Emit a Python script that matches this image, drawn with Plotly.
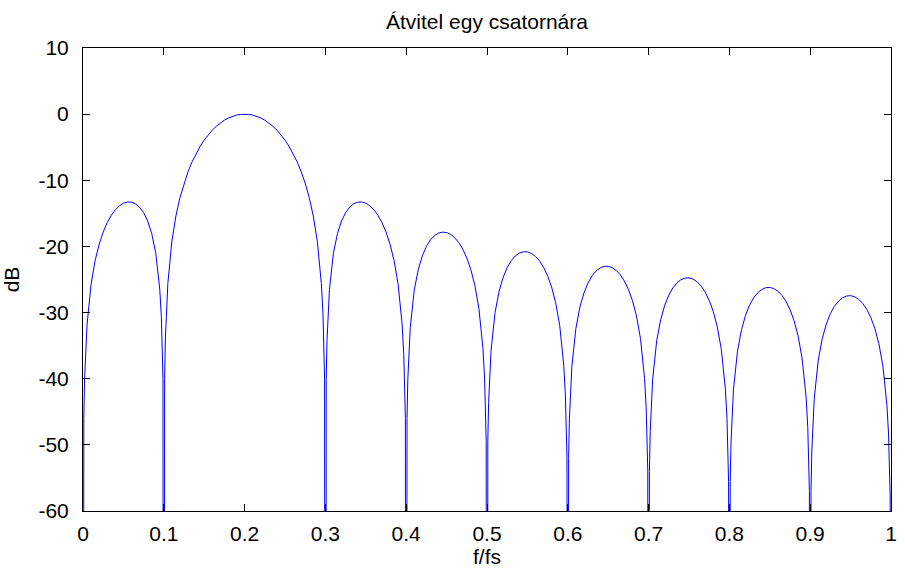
import plotly.graph_objects as go

# Normalised frequency samples (f/fs), lobe by lobe; extra points hug each null
freq = [
    0.000,
    0.001, 0.002, 0.003, 0.005, 0.010, 0.015, 0.020, 0.025, 0.030, 0.035, 0.040, 0.045, 0.050,
    0.055, 0.060, 0.065, 0.070, 0.075, 0.080, 0.085, 0.090, 0.095, 0.097, 0.098, 0.099, 0.100,
    0.101, 0.102, 0.103, 0.105, 0.110, 0.115, 0.120, 0.125, 0.130, 0.135, 0.140, 0.145, 0.150,
    0.155, 0.160, 0.165, 0.170, 0.175, 0.180, 0.185, 0.190, 0.195, 0.200,
    0.205, 0.210, 0.215, 0.220, 0.225, 0.230, 0.235, 0.240, 0.245, 0.250, 0.255, 0.260, 0.265,
    0.270, 0.275, 0.280, 0.285, 0.290, 0.295, 0.297, 0.298, 0.299, 0.300,
    0.301, 0.302, 0.303, 0.305, 0.310, 0.315, 0.320, 0.325, 0.330, 0.335, 0.340, 0.345, 0.350,
    0.355, 0.360, 0.365, 0.370, 0.375, 0.380, 0.385, 0.390, 0.395, 0.397, 0.398, 0.399, 0.400,
    0.401, 0.402, 0.403, 0.405, 0.410, 0.415, 0.420, 0.425, 0.430, 0.435, 0.440, 0.445, 0.450,
    0.455, 0.460, 0.465, 0.470, 0.475, 0.480, 0.485, 0.490, 0.495, 0.497, 0.498, 0.499, 0.500,
    0.501, 0.502, 0.503, 0.505, 0.510, 0.515, 0.520, 0.525, 0.530, 0.535, 0.540, 0.545, 0.550,
    0.555, 0.560, 0.565, 0.570, 0.575, 0.580, 0.585, 0.590, 0.595, 0.597, 0.598, 0.599, 0.600,
    0.601, 0.602, 0.603, 0.605, 0.610, 0.615, 0.620, 0.625, 0.630, 0.635, 0.640, 0.645, 0.650,
    0.655, 0.660, 0.665, 0.670, 0.675, 0.680, 0.685, 0.690, 0.695, 0.697, 0.698, 0.699, 0.700,
    0.701, 0.702, 0.703, 0.705, 0.710, 0.715, 0.720, 0.725, 0.730, 0.735, 0.740, 0.745, 0.750,
    0.755, 0.760, 0.765, 0.770, 0.775, 0.780, 0.785, 0.790, 0.795, 0.797, 0.798, 0.799, 0.800,
    0.801, 0.802, 0.803, 0.805, 0.810, 0.815, 0.820, 0.825, 0.830, 0.835, 0.840, 0.845, 0.850,
    0.855, 0.860, 0.865, 0.870, 0.875, 0.880, 0.885, 0.890, 0.895, 0.897, 0.898, 0.899, 0.900,
    0.901, 0.902, 0.903, 0.905, 0.910, 0.915, 0.920, 0.925, 0.930, 0.935, 0.940, 0.945, 0.950,
    0.955, 0.960, 0.965, 0.970, 0.975, 0.980, 0.985, 0.990, 0.995, 0.997, 0.998, 0.999, 1.000,
]

# Channel gain in dB at each frequency sample (nulls sit far below the axis floor)
gain_db = [
    -300.0,
    -45.98, -39.92, -36.36, -31.85, -25.72, -22.15, -19.67, -17.81, -16.39, -15.29, -14.47, -13.86, -13.47,
    -13.28, -13.31, -13.55, -14.06, -14.89, -16.15, -18.02, -20.97, -26.48, -30.73, -34.16, -40.09, -300.0,
    -39.91, -33.81, -30.21, -25.61, -19.23, -15.39, -12.62, -10.45, -8.69, -7.20, -5.94, -4.86, -3.92,
    -3.12, -2.42, -1.83, -1.33, -0.91, -0.58, -0.32, -0.14, -0.04, 0.00,
    -0.04, -0.14, -0.32, -0.58, -0.91, -1.33, -1.83, -2.42, -3.12, -3.92, -4.86, -5.94, -7.20,
    -8.69, -10.45, -12.62, -15.39, -19.23, -25.61, -30.21, -33.81, -39.91, -300.0,
    -40.09, -34.16, -30.73, -26.48, -20.97, -18.02, -16.15, -14.89, -14.06, -13.55, -13.31, -13.28, -13.47,
    -13.86, -14.47, -15.29, -16.39, -17.81, -19.67, -22.15, -25.72, -31.85, -36.36, -39.92, -45.98, -300.0,
    -46.07, -40.09, -36.62, -32.29, -26.59, -23.45, -21.41, -20.00, -19.02, -18.36, -17.99, -17.84, -17.90,
    -18.18, -18.68, -19.41, -20.41, -21.74, -23.51, -25.90, -29.39, -35.45, -39.93, -43.47, -49.52, -300.0,
    -49.57, -43.58, -40.10, -35.74, -29.97, -26.77, -24.67, -23.19, -22.15, -21.44, -21.01, -20.81, -20.82,
    -21.06, -21.51, -22.19, -23.15, -24.43, -26.16, -28.51, -31.96, -37.99, -42.45, -45.98, -52.02, -300.0,
    -52.07, -46.07, -42.58, -38.20, -32.40, -29.16, -27.03, -25.52, -24.45, -23.71, -23.25, -23.02, -23.01,
    -23.21, -23.64, -24.29, -25.23, -26.49, -28.19, -30.52, -33.95, -39.95, -44.40, -47.93, -53.97, -300.0,
    -54.00, -48.00, -44.50, -40.12, -34.29, -31.04, -28.88, -27.36, -26.27, -25.51, -25.03, -24.78, -24.75,
    -24.94, -25.35, -25.98, -26.90, -28.15, -29.83, -32.15, -35.56, -41.54, -45.99, -49.52, -55.55, -300.0,
    -55.58, -49.58, -46.08, -41.69, -35.85, -32.58, -30.41, -28.87, -27.77, -27.00, -26.51, -26.24, -26.20,
    -26.38, -26.77, -27.40, -28.30, -29.54, -31.21, -33.52, -36.92, -42.89, -47.34, -50.86, -56.89, -300.0,
    -56.92, -50.91, -47.41, -43.02, -37.17, -33.89, -31.71, -30.16, -29.05, -28.27, -27.77, -27.50, -27.44,
    -27.61, -28.00, -28.62, -29.51, -30.74, -32.41, -34.70, -38.10, -44.06, -48.50, -52.02, -58.05, -300.0,
]

x_ticks = [0, 0.1, 0.2, 0.3, 0.4, 0.5, 0.6, 0.7, 0.8, 0.9, 1]
x_tick_text = ["0", "0.1", "0.2", "0.3", "0.4", "0.5", "0.6", "0.7", "0.8", "0.9", "1"]
y_ticks = [-60, -50, -40, -30, -20, -10, 0, 10]
y_tick_text = ["-60", "-50", "-40", "-30", "-20", "-10", "0", "10"]

FONT = "Liberation Sans, Arial, sans-serif"
TEXT_SIZE = 21

fig = go.Figure(
    go.Scatter(
        x=freq,
        y=gain_db,
        mode="lines",
        line=dict(color="#0000ff", width=1),
        hoverinfo="skip",
    )
)

axis_common = dict(
    showgrid=False,
    zeroline=False,
    showline=True,
    linecolor="black",
    linewidth=1,
    mirror="ticks",
    ticks="inside",
    ticklen=7,
    tickwidth=1,
    tickcolor="black",
    tickfont=dict(family=FONT, size=TEXT_SIZE, color="black"),
)

fig.update_xaxes(
    range=[0, 1],
    tickvals=x_ticks,
    ticktext=x_tick_text,
    ticklabelstandoff=4,
    title=dict(text="f/fs", font=dict(family=FONT, size=TEXT_SIZE, color="black"), standoff=1),
    **axis_common,
)
fig.update_yaxes(
    range=[-60, 10],
    tickvals=y_ticks,
    ticktext=y_tick_text,
    ticklabelstandoff=9,
    title=dict(text="dB", font=dict(family=FONT, size=TEXT_SIZE, color="black"), standoff=13),
    **axis_common,
)

fig.update_layout(
    width=905,
    height=573,
    margin=dict(l=83, r=8, t=48, b=62),
    paper_bgcolor="white",
    plot_bgcolor="white",
    showlegend=False,
    title=dict(
        text="Átvitel egy csatornára",
        font=dict(family=FONT, size=TEXT_SIZE, color="black"),
        x=0.5, xref="paper", xanchor="center",
        y=1 - 22 / 573, yref="container", yanchor="middle",
    ),
)

fig.write_html("out.html")
